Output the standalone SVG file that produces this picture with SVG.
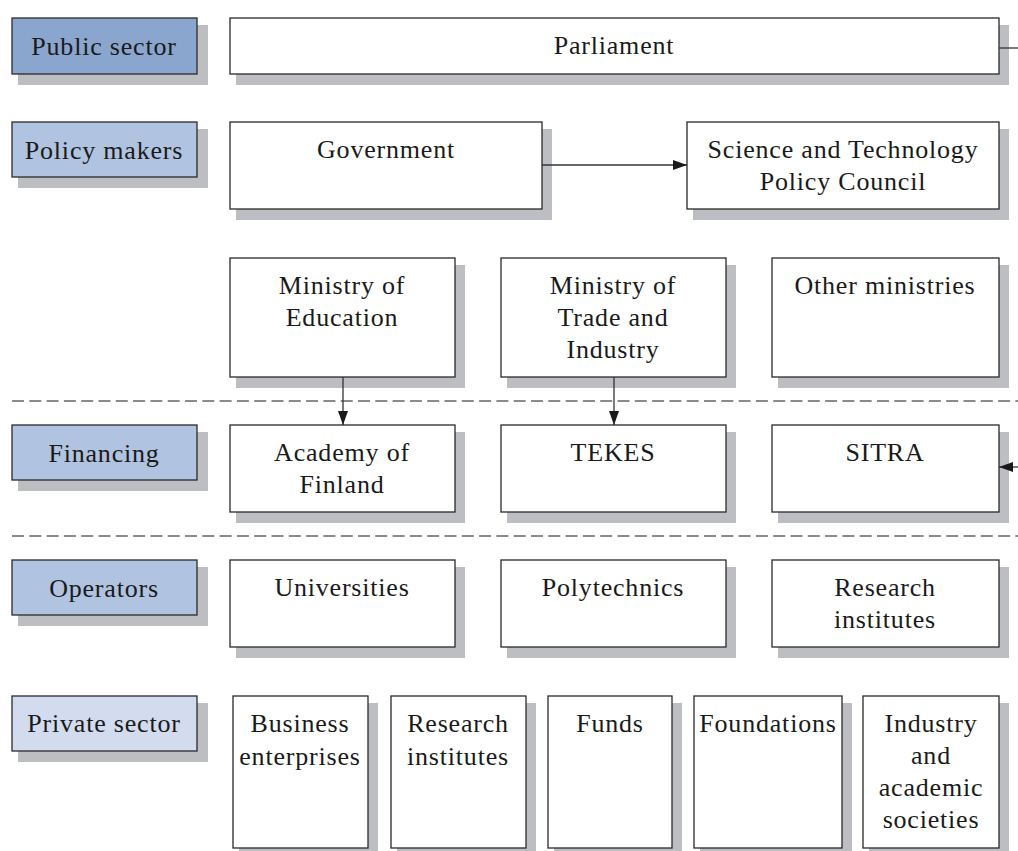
<svg xmlns="http://www.w3.org/2000/svg" width="1018" height="851" viewBox="0 0 1018 851">
<style>
.sh{fill:#bdbec2}
.bx{fill:#ffffff;stroke:#2a2a2a;stroke-width:1.3}
.l1{fill:#8aa6cf;stroke:#2a2a2a;stroke-width:1.3}
.l2{fill:#b0c3e0;stroke:#2a2a2a;stroke-width:1.3}
.l3{fill:#d3dcee;stroke:#2a2a2a;stroke-width:1.3}
text{font-family:"Liberation Serif","DejaVu Serif",serif;font-size:26px;letter-spacing:0.8px;fill:#1a1a1a;text-anchor:middle}
.cn{stroke:#333;stroke-width:1.3;fill:none}
.dash{stroke:#666;stroke-width:1.3;stroke-dasharray:12 5.3;fill:none}
</style>
<defs>
<marker id="ah" viewBox="0 0 14 10" refX="14" refY="5" markerWidth="14" markerHeight="10" markerUnits="userSpaceOnUse" orient="auto">
<path d="M0,0 L14,5 L0,10 Z" fill="#1a1a1a"/>
</marker>
</defs>

<g id="separators">
<line class="dash" x1="12" y1="401" x2="1018" y2="401"/>
<line class="dash" x1="12" y1="536" x2="1018" y2="536"/>
</g>

<g id="label-public"><rect class="sh" x="18" y="25" width="190" height="60"/><rect class="l1" x="12" y="18" width="185" height="56"/><text x="104" y="55">Public sector</text></g>
<g id="label-policy"><rect class="sh" x="18" y="129" width="190" height="59"/><rect class="l2" x="12" y="122" width="185" height="55"/><text x="104" y="159">Policy makers</text></g>
<g id="label-financing"><rect class="sh" x="18" y="432" width="190" height="59"/><rect class="l2" x="12" y="425" width="185" height="55"/><text x="104" y="462">Financing</text></g>
<g id="label-operators"><rect class="sh" x="18" y="567" width="190" height="59"/><rect class="l2" x="12" y="560" width="185" height="55"/><text x="104" y="597">Operators</text></g>
<g id="label-private"><rect class="sh" x="18" y="703" width="190" height="59"/><rect class="l3" x="12" y="696" width="185" height="55"/><text x="104" y="732">Private sector</text></g>

<g id="parliament"><rect class="sh" x="236" y="25" width="773" height="60"/><rect class="bx" x="230" y="18" width="769" height="56"/><text x="614" y="54">Parliament</text></g>
<g id="government"><rect class="sh" x="236" y="129" width="316" height="91"/><rect class="bx" x="230" y="122" width="312" height="87"/><text x="386" y="158">Government</text></g>
<g id="stpc"><rect class="sh" x="693" y="129" width="316" height="91"/><rect class="bx" x="687" y="122" width="312" height="87"/><text x="843" y="158">Science and Technology</text><text x="843" y="190">Policy Council</text></g>

<g id="min-education"><rect class="sh" x="236" y="265" width="229" height="123"/><rect class="bx" x="230" y="258" width="225" height="119"/><text x="342" y="294">Ministry of</text><text x="342" y="326">Education</text></g>
<g id="min-trade"><rect class="sh" x="507" y="265" width="229" height="123"/><rect class="bx" x="501" y="258" width="225" height="119"/><text x="613" y="294">Ministry of</text><text x="613" y="326">Trade and</text><text x="613" y="358">Industry</text></g>
<g id="min-other"><rect class="sh" x="778" y="265" width="231" height="123"/><rect class="bx" x="772" y="258" width="227" height="119"/><text x="885" y="294">Other ministries</text></g>

<g id="academy"><rect class="sh" x="236" y="432" width="229" height="91"/><rect class="bx" x="230" y="425" width="225" height="87"/><text x="342" y="461">Academy of</text><text x="342" y="493">Finland</text></g>
<g id="tekes"><rect class="sh" x="507" y="432" width="229" height="91"/><rect class="bx" x="501" y="425" width="225" height="87"/><text x="613" y="461">TEKES</text></g>
<g id="sitra"><rect class="sh" x="778" y="432" width="231" height="91"/><rect class="bx" x="772" y="425" width="227" height="87"/><text x="885" y="461">SITRA</text></g>

<g id="universities"><rect class="sh" x="236" y="567" width="229" height="91"/><rect class="bx" x="230" y="560" width="225" height="87"/><text x="342" y="596">Universities</text></g>
<g id="polytechnics"><rect class="sh" x="507" y="567" width="229" height="91"/><rect class="bx" x="501" y="560" width="225" height="87"/><text x="613" y="596">Polytechnics</text></g>
<g id="research-inst"><rect class="sh" x="778" y="567" width="231" height="91"/><rect class="bx" x="772" y="560" width="227" height="87"/><text x="885" y="596">Research</text><text x="885" y="628">institutes</text></g>

<g id="business"><rect class="sh" x="239" y="703" width="139" height="160"/><rect class="bx" x="233" y="696" width="135" height="152"/><text x="300" y="732">Business</text><text x="300" y="765">enterprises</text></g>
<g id="priv-research"><rect class="sh" x="397" y="703" width="139" height="160"/><rect class="bx" x="391" y="696" width="135" height="152"/><text x="458" y="732">Research</text><text x="458" y="765">institutes</text></g>
<g id="funds"><rect class="sh" x="554" y="703" width="128" height="160"/><rect class="bx" x="548" y="696" width="124" height="152"/><text x="610" y="732">Funds</text></g>
<g id="foundations"><rect class="sh" x="700" y="703" width="152" height="160"/><rect class="bx" x="694" y="696" width="148" height="152"/><text x="768" y="732">Foundations</text></g>
<g id="industry-soc"><rect class="sh" x="869" y="703" width="140" height="160"/><rect class="bx" x="863" y="696" width="136" height="152"/><text x="931" y="732">Industry</text><text x="931" y="764">and</text><text x="931" y="796">academic</text><text x="931" y="828">societies</text></g>

<g id="connectors">
<line class="cn" x1="542" y1="165" x2="687" y2="165" marker-end="url(#ah)"/>
<line class="cn" x1="343" y1="377" x2="343" y2="425" marker-end="url(#ah)"/>
<line class="cn" x1="614" y1="377" x2="614" y2="425" marker-end="url(#ah)"/>
<line class="cn" x1="999" y1="48" x2="1018" y2="48"/>
<line class="cn" x1="1018" y1="467" x2="999" y2="467" marker-end="url(#ah)"/>
</g>
</svg>
